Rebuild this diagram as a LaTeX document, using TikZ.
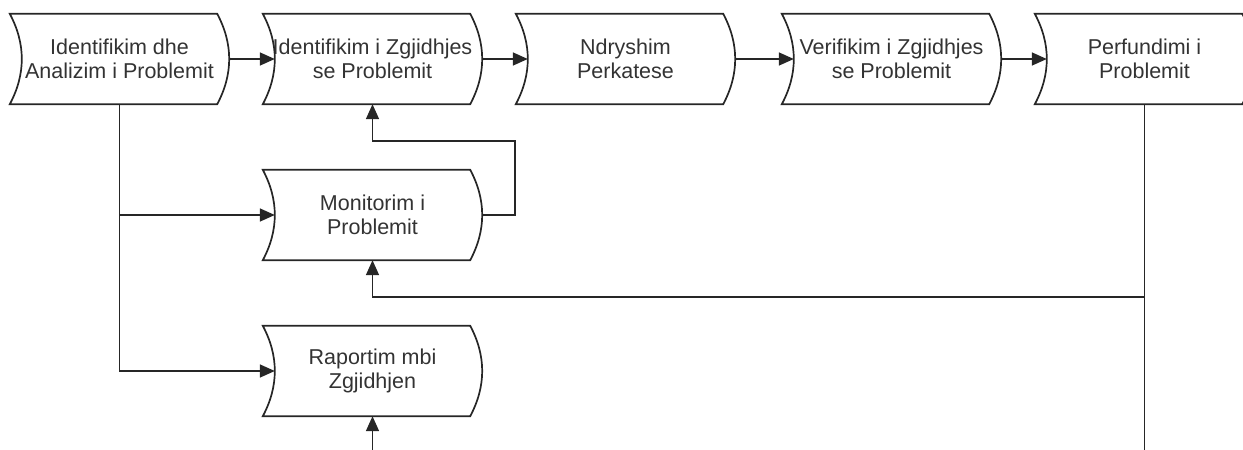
\documentclass[tikz,border=0pt]{standalone}
\usepackage{fontspec}
\setmainfont{Liberation Sans}
\usepackage{tikz}
\usetikzlibrary{arrows.meta}

\begin{document}
\begin{tikzpicture}[x=1pt,y=-1pt,
    proc/.style={minimum width=207pt,minimum height=90pt,inner sep=0pt,align=center,
        text=black!80,font=\fontsize{21.5}{24.6}\selectfont},
    line/.style={draw=black!85,line width=1.7pt},
    arr/.style={line,-{Triangle[length=15pt,width=13pt]}}]
    \useasboundingbox (0,0) rectangle (1243,450);

    % hapat kryesore
    \node[proc] (ident) at (119.5,59) {Identifikim dhe\\Analizim i Problemit};
    \node[proc] (zgj)   at (372.5,59) {Identifikim i Zgjidhjes\\se Problemit};
    \node[proc] (ndr)   at (625.5,59) {Ndryshim\\Perkatese};
    \node[proc] (ver)   at (891.5,59) {Verifikim i Zgjidhjes\\se Problemit};
    \node[proc] (perf)  at (1144.5,59) {Perfundimi i\\Problemit};
    \node[proc] (mon)   at (372.5,215) {Monitorim i\\Problemit};
    \node[proc] (rap)   at (372.5,371) {Raportim mbi\\Zgjidhjen};

    % konturat
    \foreach \n in {ident,zgj,ndr,ver,perf,mon,rap}
        \draw[line] ([xshift=-6pt]\n.north west) -- ([xshift=-6pt]\n.north east)
            .. controls +(16,30) and +(16,-30) .. ([xshift=-6pt]\n.south east)
            -- ([xshift=-6pt]\n.south west)
            .. controls +(16,-30) and +(16,30) .. cycle;

    \coordinate (loop)   at (515,141);
    \coordinate (branch) at (1144.5,297);
    \coordinate (bottom) at (1144.5,452);
    \coordinate (rapin)  at (372.5,452);

    % lidhjet
    \draw[arr] ([xshift=6pt]ident.east) -- ([xshift=6pt]zgj.west);
    \draw[arr] ([xshift=6pt]zgj.east) -- ([xshift=6pt]ndr.west);
    \draw[arr] ([xshift=6pt]ndr.east) -- ([xshift=6pt]ver.west);
    \draw[arr] ([xshift=6pt]ver.east) -- ([xshift=6pt]perf.west);
    \draw[arr] (ident.south) |- ([xshift=6pt]mon.west);
    \draw[arr] (ident.south) |- ([xshift=6pt]rap.west);
    \draw[arr] ([xshift=6pt]mon.east) -| (loop) -| (zgj.south);
    \draw[line] (perf.south) -- (bottom);
    \draw[arr] (branch) -| (mon.south);
    \draw[arr] (rapin) -- (rap.south);
\end{tikzpicture}
\end{document}
